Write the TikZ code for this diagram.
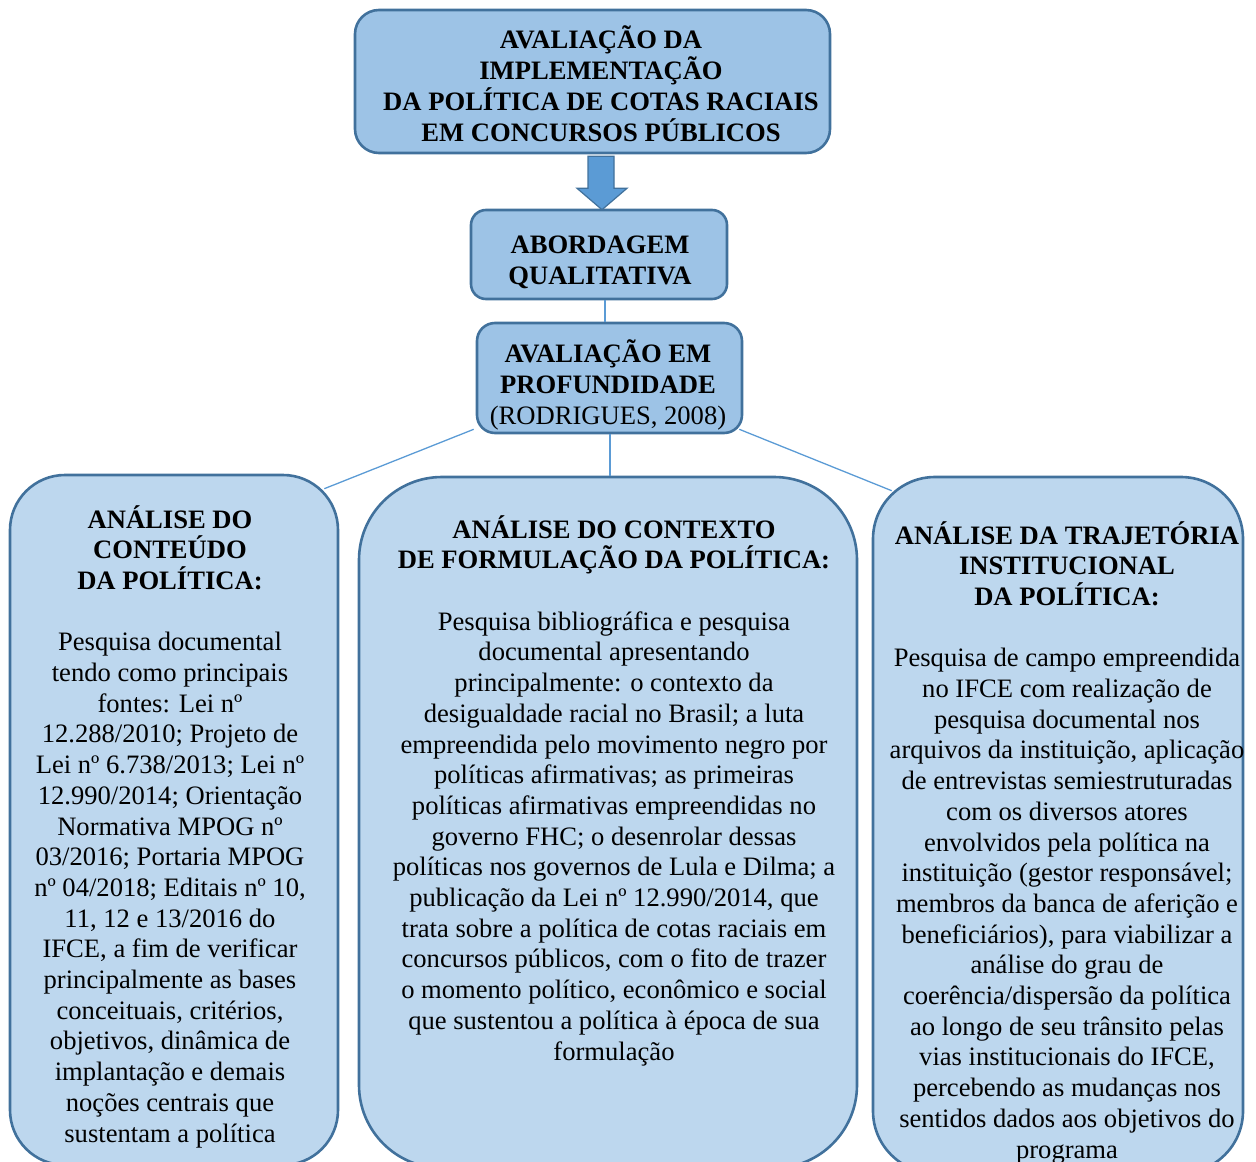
\documentclass[tikz,border=0pt]{standalone}
\usepackage{fontspec}
\setmainfont{Liberation Serif}
\usetikzlibrary{calc}
\definecolor{topfill}{RGB}{157,195,230}
\definecolor{lowfill}{RGB}{189,215,238}
\definecolor{edgeblue}{RGB}{65,113,156}
\definecolor{linkblue}{RGB}{91,155,213}
\begin{document}
\begin{tikzpicture}[x=1pt,y=-1pt,
  upbox/.style={draw=edgeblue, line width=2.6pt, fill=topfill, inner sep=0pt},
  lowbox/.style={draw=edgeblue, line width=2.6pt, fill=lowfill, inner sep=0pt},
  txt/.style={align=center, inner sep=0pt, anchor=base, text=black,
    font=\fontsize{26.6}{30.7}\selectfont},
  conn/.style={draw=linkblue, line width=1.3pt}]
\useasboundingbox (0,0) rectangle (1256,1162);
\clip (0,0) rectangle (1256,1162);

% boxes
\node[upbox, rounded corners=24pt, minimum width=475pt, minimum height=143pt] (top) at (592.5,81.5) {};
\node[upbox, rounded corners=15pt, minimum width=256pt, minimum height=89pt] (abord) at (599,254.5) {};
\node[upbox, rounded corners=18pt, minimum width=265pt, minimum height=110pt] (avp) at (609.5,378) {};
\node[lowbox, rounded corners=55pt, minimum width=328pt, minimum height=690pt] (lb) at (174,820) {};
\node[lowbox, rounded corners=83pt, minimum width=498pt, minimum height=691pt] (mb) at (608,822.5) {};
\node[lowbox, rounded corners=62pt, minimum width=370pt, minimum height=696pt] (rb) at (1058,825) {};

% block arrow
\draw[draw=edgeblue, line width=1.2pt, fill=linkblue, line join=miter]
  ($(top.south)+(-4.5,2)$) -- ($(top.south)+(21.5,2)$) -- ($(top.south)+(21.5,34)$)
  -- ($(top.south)+(34.5,34)$) -- ($(abord.north)+(3,1)$) -- ($(top.south)+(-15.5,34)$)
  -- ($(top.south)+(-4.5,34)$) -- cycle;

% connectors
\draw[conn] ([xshift=6pt]abord.south) -- ([xshift=-4.5pt]avp.north);
\draw[conn] ([xshift=0.5pt]avp.south) -- ([xshift=2pt]mb.north);
\draw[conn] ([xshift=-2pt,yshift=5pt]avp.south west) -- ([xshift=-15pt,yshift=-15pt]lb.north east);
\draw[conn] ([xshift=-4pt,yshift=5pt]avp.south east) -- ([xshift=20pt,yshift=-15pt]rb.north west);

% texts (anchor = baseline of last line)
\node[txt, font=\fontsize{26.6}{30.7}\selectfont\bfseries] (toptxt) at (601,141)
  {AVALIAÇÃO DA\\IMPLEMENTAÇÃO\\DA POLÍTICA DE COTAS RACIAIS\\EM CONCURSOS PÚBLICOS};
\node[txt, font=\fontsize{26.6}{30.7}\selectfont\bfseries] (abordtxt) at (600,284)
  {ABORDAGEM\\QUALITATIVA};
\node[txt] (avptxt) at (608,424)
  {\textbf{AVALIAÇÃO EM}\\\textbf{PROFUNDIDADE}\\(RODRIGUES, 2008)};

\node[txt] (lbtxt) at (170,1142)
  {\textbf{ANÁLISE DO}\\\textbf{CONTEÚDO}\\\textbf{DA POLÍTICA:}\\[30.7pt]
   Pesquisa documental\\tendo como principais\\fontes: Lei nº\\12.288/2010; Projeto de\\
   Lei nº 6.738/2013; Lei nº\\12.990/2014; Orientação\\Normativa MPOG nº\\
   03/2016; Portaria MPOG\\nº 04/2018; Editais nº 10,\\11, 12 e 13/2016 do\\
   IFCE, a fim de verificar\\principalmente as bases\\conceituais, critérios,\\
   objetivos, dinâmica de\\implantação e demais\\noções centrais que\\sustentam a política};

\node[txt] (mbtxt) at (614,1060)
  {\textbf{ANÁLISE DO CONTEXTO}\\\textbf{DE FORMULAÇÃO DA POLÍTICA:}\\[30.7pt]
   Pesquisa bibliográfica e pesquisa\\documental apresentando\\
   principalmente: o contexto da\\desigualdade racial no Brasil; a luta\\
   empreendida pelo movimento negro por\\políticas afirmativas; as primeiras\\
   políticas afirmativas empreendidas no\\governo FHC; o desenrolar dessas\\
   políticas nos governos de Lula e Dilma; a\\publicação da Lei nº 12.990/2014, que\\
   trata sobre a política de cotas raciais em\\concursos públicos, com o fito de trazer\\
   o momento político, econômico e social\\que sustentou a política à época de sua\\
   formulação};

\node[txt] (rbtxt) at (1067,1158)
  {\textbf{ANÁLISE DA TRAJETÓRIA}\\\textbf{INSTITUCIONAL}\\\textbf{DA POLÍTICA:}\\[30.7pt]
   Pesquisa de campo empreendida\\no IFCE com realização de\\pesquisa documental nos\\
   arquivos da instituição, aplicação\\de entrevistas semiestruturadas\\
   com os diversos atores\\envolvidos pela política na\\instituição (gestor responsável;\\
   membros da banca de aferição e\\beneficiários), para viabilizar a\\
   análise do grau de\\coerência/dispersão da política\\ao longo de seu trânsito pelas\\
   vias institucionais do IFCE,\\percebendo as mudanças nos\\sentidos dados aos objetivos do\\
   programa};
\end{tikzpicture}
\end{document}
